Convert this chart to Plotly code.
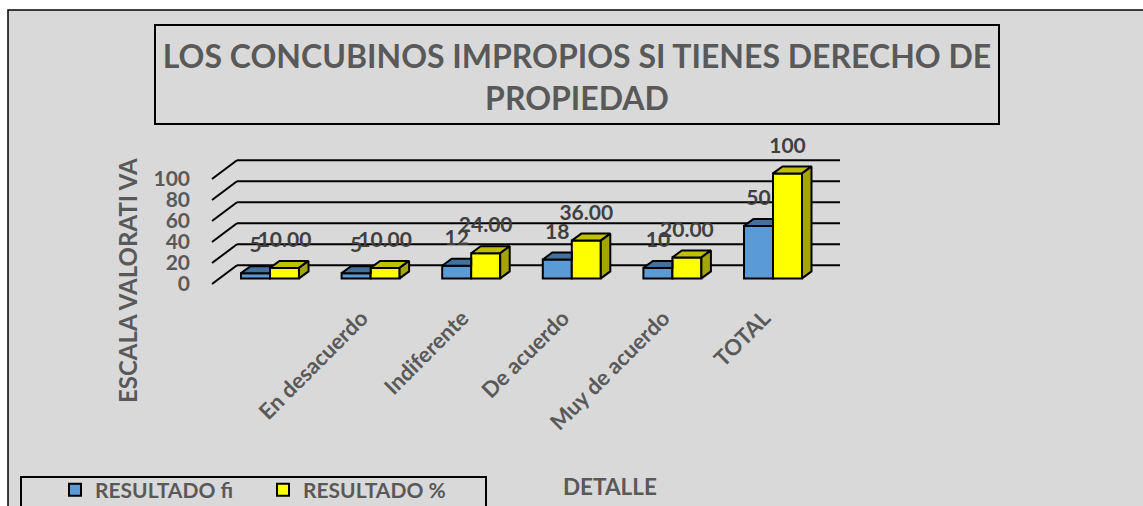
import plotly.graph_objects as go

CATEGORIES = ["", "En desacuerdo", "Indiferente", "De acuerdo", "Muy de acuerdo", "TOTAL"]
FI_VALUES = [5, 5, 12, 18, 10, 50]
PCT_VALUES = [10, 10, 24, 36, 20, 100]
FI_LABELS = ["5", "5", "12", "18", "10", "50"]
PCT_LABELS = ["10.00", "10.00", "24.00", "36.00", "20.00", "100"]
Y_TICKS = [0, 20, 40, 60, 80, 100]
TITLE = "LOS CONCUBINOS IMPROPIOS SI TIENES DERECHO DE<br>PROPIEDAD"

W, H = 1143, 506
FONT = "Lato"
GREY = "#595959"
DARK = "#404040"
BG = "#d9d9d9"
EDGE = 2

PX_X = 100.6            # pixels per category
PX_Y = 1.05             # pixels per value unit
BAR_W = 29 / PX_X
DX = 9.5 / PX_X         # bar depth
DY = 7 / PX_Y
BASE = 5.6 / PX_Y       # bar plane above the axis plane
WALL_LEFT_FRONT = -0.5765
WALL_LEFT_BACK = -0.328
WALL_RIGHT = 5.666
WALL_DY = 18.7 / PX_Y
LABEL_UP = 26 / PX_Y

def px(x): return x / W
def py(y): return 1 - y / H

xs = list(range(len(CATEGORIES)))
fig = go.Figure()

# Front faces
fig.add_bar(x=xs, y=FI_VALUES, base=BASE, width=BAR_W, offset=-BAR_W, name="RESULTADO fi",
            marker=dict(color="#5b9bd5", line=dict(color="black", width=EDGE)))
fig.add_bar(x=xs, y=PCT_VALUES, base=BASE, width=BAR_W, offset=0, name="RESULTADO %",
            marker=dict(color="#ffff00", line=dict(color="black", width=EDGE)))

def poly(xv, yv, color):
    fig.add_scatter(x=xv, y=yv, mode="lines", fill="toself", fillcolor=color,
                    line=dict(color="black", width=EDGE), showlegend=False, hoverinfo="skip")

for i, (a, b) in enumerate(zip(FI_VALUES, PCT_VALUES)):
    ta, tb = BASE + a, BASE + b
    # blue top, cut where the taller yellow bar hides it
    poly([i - BAR_W, i - BAR_W + DX, i, i, i - BAR_W],
         [ta, ta + DY, ta + DY, ta, ta], "#41719c")
    # yellow top and side
    poly([i, i + DX, i + BAR_W + DX, i + BAR_W, i],
         [tb, tb + DY, tb + DY, tb, tb], "#c0c000")
    poly([i + BAR_W, i + BAR_W + DX, i + BAR_W + DX, i + BAR_W, i + BAR_W],
         [BASE, BASE + DY, tb + DY, tb, BASE], "#a5a500")

# Data labels
fig.add_scatter(x=[i - BAR_W / 2 for i in xs], y=[BASE + v + LABEL_UP for v in FI_VALUES],
                text=FI_LABELS, mode="text", textposition="middle center", showlegend=False,
                textfont=dict(family=FONT, size=21, color=DARK, weight="bold"), hoverinfo="skip")
fig.add_scatter(x=[i + BAR_W / 2 for i in xs], y=[BASE + v + LABEL_UP for v in PCT_VALUES],
                text=PCT_LABELS, mode="text", textposition="middle center", showlegend=False,
                textfont=dict(family=FONT, size=21, color=DARK, weight="bold"), hoverinfo="skip")

shapes = [
    dict(type="rect", xref="paper", yref="paper", x0=px(8), x1=px(1160), y0=py(10), y1=py(520),
         fillcolor=BG, line=dict(color="black", width=1.5), layer="below"),
    dict(type="rect", xref="paper", yref="paper", x0=px(155), x1=px(999), y0=py(25), y1=py(124),
         fillcolor="rgba(0,0,0,0)", line=dict(color="black", width=EDGE), layer="below"),
    dict(type="rect", xref="paper", yref="paper", x0=px(21), x1=px(486), y0=py(477), y1=py(520),
         fillcolor="rgba(0,0,0,0)", line=dict(color="black", width=EDGE), layer="below"),
]
for t in Y_TICKS:
    shapes.append(dict(type="line", xref="x", yref="y", x0=WALL_LEFT_FRONT, y0=t,
                       x1=WALL_LEFT_BACK, y1=t + WALL_DY,
                       line=dict(color="black", width=EDGE), layer="below"))
    shapes.append(dict(type="line", xref="x", yref="y", x0=WALL_LEFT_BACK, y0=t + WALL_DY,
                       x1=WALL_RIGHT, y1=t + WALL_DY,
                       line=dict(color="black", width=EDGE), layer="below"))

annotations = [
    dict(text="ESCALA VALORATI VA", xref="paper", yref="paper", x=px(127), y=py(281),
         textangle=-90, showarrow=False, xanchor="center", yanchor="middle",
         font=dict(family=FONT, size=24, color=GREY, weight="bold")),
    dict(text="DETALLE", xref="paper", yref="paper", x=px(610), y=py(486),
         showarrow=False, xanchor="center", yanchor="middle",
         font=dict(family=FONT, size=22.5, color=GREY, weight="bold")),
]

fig.update_layout(
    width=W, height=H, margin=dict(l=0, r=0, t=0, b=0, autoexpand=False), autosize=False,
    paper_bgcolor="white", plot_bgcolor="rgba(0,0,0,0)",
    barmode="overlay", shapes=shapes, annotations=annotations,
    title=dict(text=TITLE, x=px(577), y=py(68), xref="paper", yref="paper",
               xanchor="center", yanchor="middle",
               font=dict(family=FONT, size=32, color=GREY, weight="bold")),
    xaxis=dict(domain=[px(191), px(860)], range=[(191 - 270) / PX_X, (860 - 270) / PX_X],
               tickmode="array", tickvals=xs, ticktext=CATEGORIES, tickangle=-45,
               ticklabelshift=-9,
               showgrid=False, zeroline=False, showline=False, ticks="",
               tickfont=dict(family=FONT, size=22, color=GREY, weight="bold")),
    yaxis=dict(domain=[py(300), py(130)], range=[-16 / PX_Y, 154 / PX_Y],
               tickmode="array", tickvals=Y_TICKS,
               showgrid=False, zeroline=False, showline=False, ticks="",
               tickfont=dict(family=FONT, size=21, color=GREY, weight="bold")),
    legend=dict(orientation="h", x=px(55), y=py(490), xanchor="left", yanchor="middle",
                bgcolor="rgba(0,0,0,0)", entrywidth=163, entrywidthmode="pixels",
                font=dict(family=FONT, size=21, color=GREY, weight="bold"), traceorder="normal"),
)
fig.write_html("out.html", post_script="document.body.style.margin='0';",
               config={"displayModeBar": False})
